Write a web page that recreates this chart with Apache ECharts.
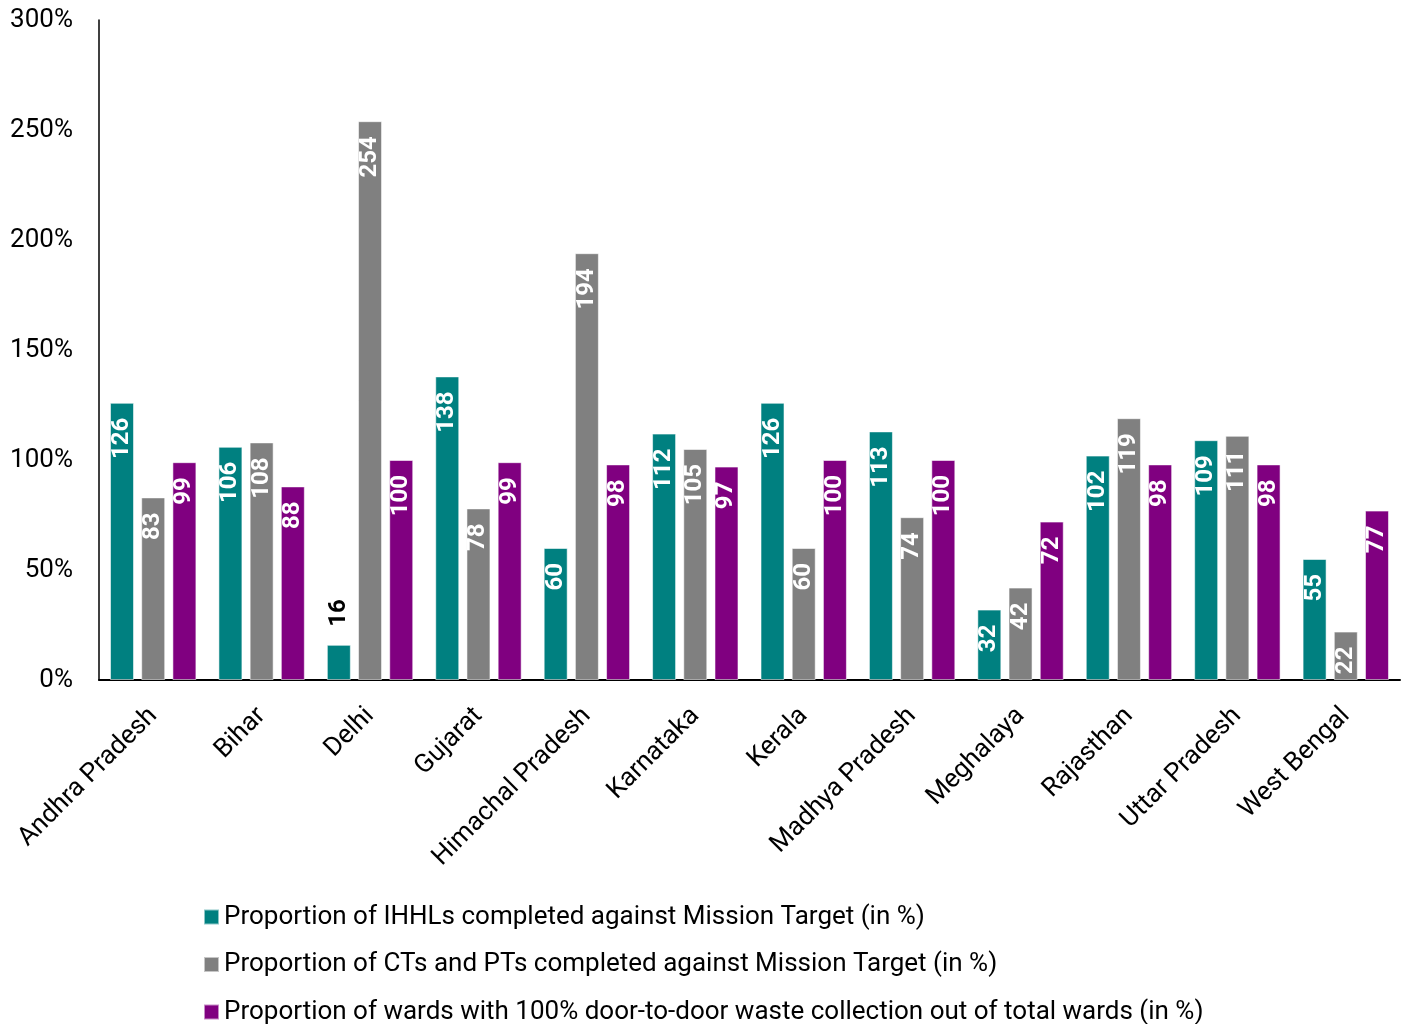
<!DOCTYPE html>
<html>
<head>
<meta charset="utf-8">
<script src="https://cdn.jsdelivr.net/npm/echarts@6/dist/echarts.min.js"></script>
<style>html,body{margin:0;padding:0;background:#fff}#c{width:1403px;height:1024px}</style>
</head>
<body>
<div id="c"></div>
<script>
const categories = ["Andhra Pradesh","Bihar","Delhi","Gujarat","Himachal Pradesh","Karnataka","Kerala","Madhya Pradesh","Meghalaya","Rajasthan","Uttar Pradesh","West Bengal"];
const seriesNames = [
  "Proportion of IHHLs completed against Mission Target (in %)",
  "Proportion of CTs and PTs completed against Mission Target (in %)",
  "Proportion of wards with 100% door-to-door waste collection out of total wards (in %)"
];
const ihhl = [126,106,16,138,60,112,126,113,32,102,109,55];
const ctpt = [83,108,254,78,194,105,60,74,42,119,111,22];
const wards = [99,88,100,99,98,97,100,100,72,98,98,77];
const yTicks = [0,50,100,150,200,250,300];
const colors = ["#008080","#808080","#800080"];

const FONT = "Roboto";
function mkData(arr){
  return arr.map(v => v < 20 ? {
    value: v,
    label: {position:'top', align:'left', color:'#000', distance: 18}
  } : v);
}
function mkSeries(name, arr, color){
  return {
    name, type:'bar', data: mkData(arr), barWidth: 24, barGap: '30%',
    itemStyle:{color, borderColor:'rgba(255,255,255,0.55)', borderWidth:1},
    label:{show:true, position:'insideTop', rotate:90, align:'right', verticalAlign:'middle',
      distance:15, color:'#fff', fontFamily:FONT, fontWeight:'bold', fontSize:24},
    emphasis:{disabled:true}
  };
}
const chart = echarts.init(document.getElementById('c'));
chart.setOption({
  animation:false,
  textStyle:{fontFamily:FONT},
  grid:{left:99, right:3, top:20, bottom:344, containLabel:false},
  legend:{
    orient:'vertical', left:203, top:904, height:140, width:1150, padding:0,
    itemWidth:15, itemHeight:15, itemGap:21.5,
    icon:'rect', textStyle:{fontFamily:FONT, fontSize:26, color:'#000', lineHeight:26},
    data: seriesNames
  },
  xAxis:{
    type:'category', data:categories,
    axisLine:{lineStyle:{color:'#000', width:2}},
    axisTick:{show:false},
    axisLabel:{interval:0, rotate:45, fontFamily:FONT, fontSize:26, color:'#000', margin:32}
  },
  yAxis:{
    type:'value', min:yTicks[0], max:yTicks[yTicks.length-1], interval:50,
    axisLine:{show:true, lineStyle:{color:'#000', width:1.5}},
    axisTick:{show:false},
    splitLine:{show:false},
    axisLabel:{formatter:'{value}%', fontFamily:FONT, fontSize:26, color:'#000', margin:26}
  },
  series:[
    mkSeries(seriesNames[0], ihhl, colors[0]),
    mkSeries(seriesNames[1], ctpt, colors[1]),
    mkSeries(seriesNames[2], wards, colors[2])
  ]
});
</script>
</body>
</html>
